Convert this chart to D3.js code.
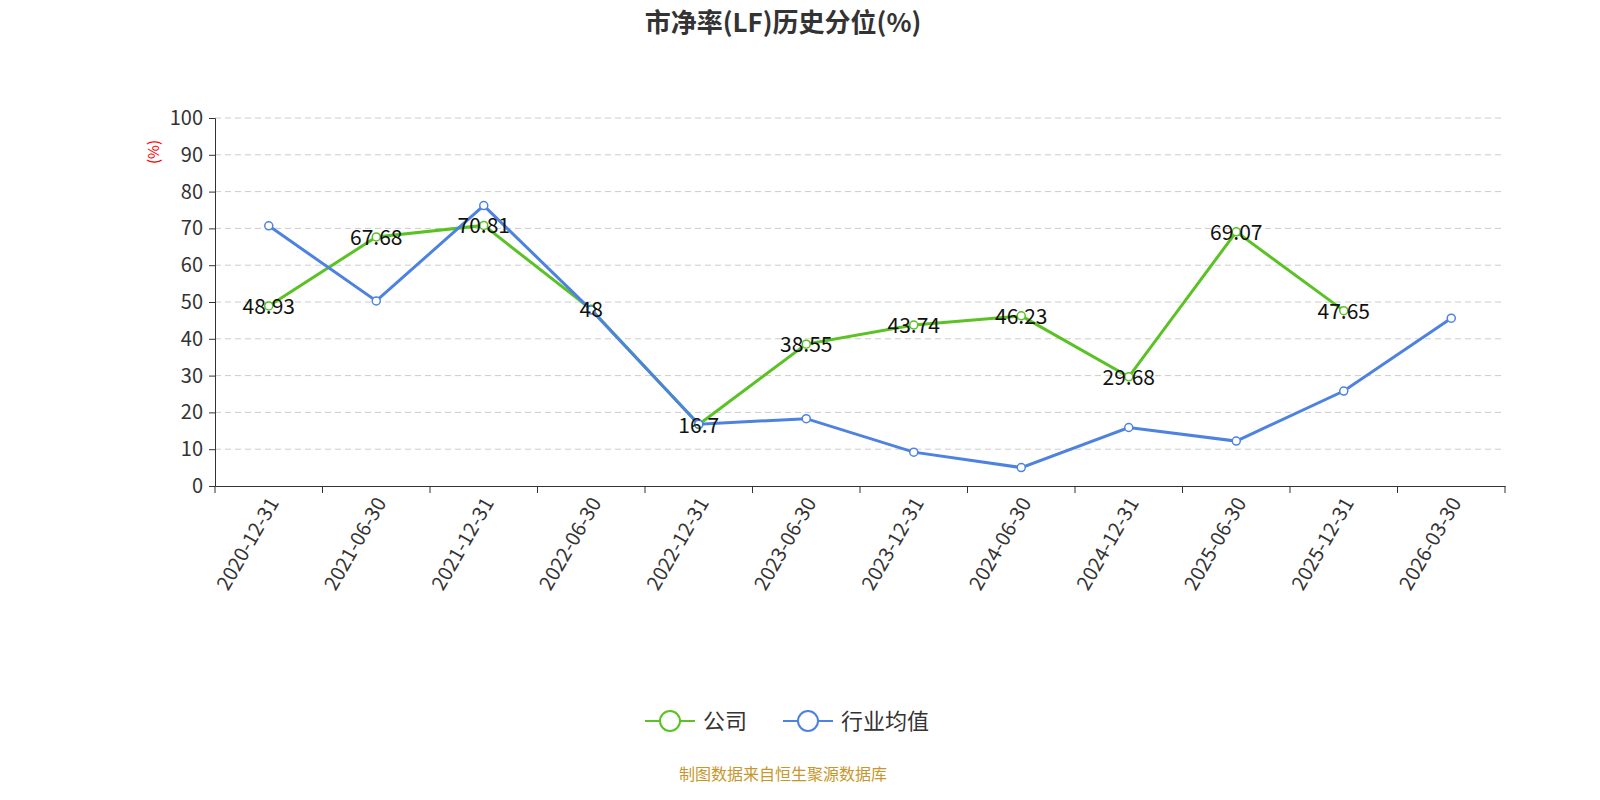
<!DOCTYPE html>
<html><head><meta charset="utf-8">
<script src="https://cdn.jsdelivr.net/npm/d3@7/dist/d3.min.js"></script>
<style>body{margin:0;background:#fff;font-family:"Noto Sans CJK SC","Noto Sans",sans-serif;}</style>
</head><body><svg id="c" width="1600" height="800"></svg>
<script>
const categories=["2020-12-31","2021-06-30","2021-12-31","2022-06-30","2022-12-31","2023-06-30","2023-12-31","2024-06-30","2024-12-31","2025-06-30","2025-12-31","2026-03-30"];
const companyValues=[48.93,67.68,70.81,48,16.7,38.55,43.74,46.23,29.68,69.07,47.65,null];
const industryValues=[70.7,50.3,76.2,47.8,16.8,18.3,9.2,5.0,15.9,12.2,25.8,45.6];
const yTicks=[0,10,20,30,40,50,60,70,80,90,100];
const green="#5ac224",blue="#4e82e0";
const svg=d3.select("#c");
const L=215,R=1505,T=118,B=486;
const x=d3.scaleBand().domain(categories).range([L,R]);
const y=d3.scaleLinear().domain([0,100]).range([B,T]);
const cx=d=>x(d)+x.bandwidth()/2;
svg.append("text").attr("x",783).attr("y",32).attr("text-anchor","middle").attr("font-size",26).attr("font-weight","bold").attr("fill","#333").text("市净率(LF)历史分位(%)");
svg.append("g").selectAll("line").data(yTicks.filter(t=>t>0)).join("line").attr("x1",L).attr("x2",R).attr("y1",y).attr("y2",y).attr("stroke","#ccc").attr("stroke-dasharray","6,4");
const ya=svg.append("g").attr("transform",`translate(${L},0)`).call(d3.axisLeft(y).tickValues(yTicks).tickSize(6).tickPadding(6));
ya.selectAll("text").attr("font-size",20).attr("fill","#333").attr("font-family","Noto Sans CJK SC");
ya.selectAll("line,path").attr("stroke","#333");
svg.append("text").attr("transform","translate(159,152) rotate(-90)").attr("text-anchor","middle").attr("fill","red").attr("font-size",15).text("(%)");
const xa=svg.append("g").attr("transform",`translate(0,${B})`).call(d3.axisBottom(x).tickSize(0).tickFormat(""));
xa.selectAll("path").attr("stroke","#333");
svg.append("g").selectAll("line").data(categories.concat([null])).join("line").attr("x1",(d,i)=>L+i*x.bandwidth()).attr("x2",(d,i)=>L+i*x.bandwidth()).attr("y1",B).attr("y2",B+7).attr("stroke","#333");
svg.append("g").selectAll("text").data(categories).join("text").attr("transform",d=>`translate(${cx(d)+6},${B+14}) rotate(-60)`).attr("text-anchor","end").attr("dominant-baseline","middle").attr("font-size",20).attr("fill","#333").text(d=>d);
function series(vals,color){
  const pts=categories.map((c,i)=>({c,v:vals[i]})).filter(p=>p.v!=null);
  svg.append("path").datum(pts).attr("d",d3.line().x(p=>cx(p.c)).y(p=>y(p.v))).attr("fill","none").attr("stroke",color).attr("stroke-width",3);
  svg.append("g").selectAll("circle").data(pts).join("circle").attr("cx",p=>cx(p.c)).attr("cy",p=>y(p.v)).attr("r",4).attr("fill","#fff").attr("stroke",color).attr("stroke-width",1.5);
  return pts;
}
const cp=series(companyValues,green);
series(industryValues,blue);
svg.append("g").selectAll("text").data(cp).join("text").attr("x",p=>cx(p.c)).attr("y",p=>y(p.v)+8).attr("text-anchor","middle").attr("font-size",21).attr("fill","#111").text(p=>p.v);
const lg=svg.append("g");
[[green,"公司",645],[blue,"行业均值",783]].forEach(([c,t,x0])=>{
  lg.append("line").attr("x1",x0).attr("x2",x0+50).attr("y1",721).attr("y2",721).attr("stroke",c).attr("stroke-width",2);
  lg.append("circle").attr("cx",x0+25).attr("cy",721).attr("r",10).attr("fill","#fff").attr("stroke",c).attr("stroke-width",2);
  lg.append("text").attr("x",x0+58).attr("y",729).attr("font-size",22).attr("fill","#333").text(t);
});
svg.append("text").attr("x",783).attr("y",780).attr("text-anchor","middle").attr("font-size",16).attr("fill","#c8962a").text("制图数据来自恒生聚源数据库");
</script></body></html>
